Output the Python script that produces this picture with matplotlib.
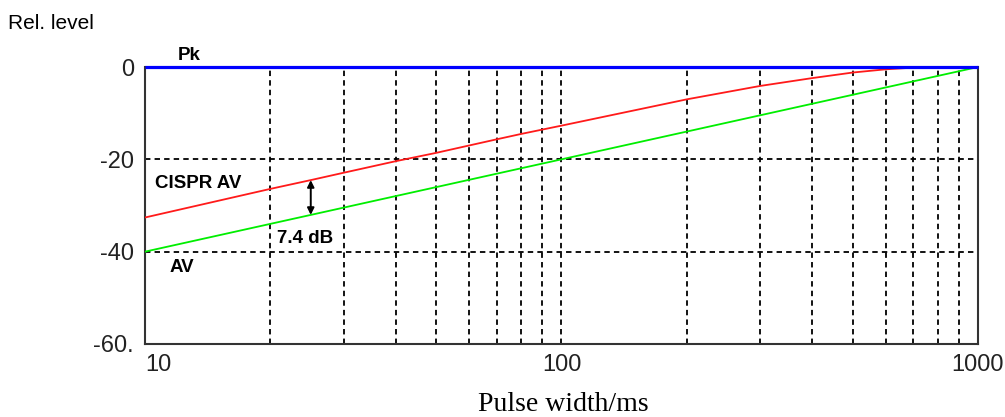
import numpy as np
import matplotlib
matplotlib.use("Agg")
from matplotlib import pyplot as plt
from matplotlib.ticker import FixedLocator, NullLocator

# pulse width in ms, relative level in dB
pk_width = [10, 1000]
pk_level = [0, 0]
av_width = [10, 1000]
av_level = [-40, 0]
cispr_width = [10, 20, 25, 30, 40, 50, 60, 70, 80, 90, 100,
               200, 300, 400, 500, 600, 740]
cispr_level = [-32.6, -26.4, -24.5, -22.9, -20.4, -18.6, -17.0, -15.65, -14.5,
               -13.55, -12.7, -7.0, -4.1, -2.4, -1.2, -0.5, 0.0]
x_ticks = [10, 100, 1000]
x_tick_labels = ["10", "100", "1000"]
y_ticks = [0, -20, -40, -60]
y_tick_labels = ["0", "-20", "-40", "-60."]
grid_x = [20, 30, 40, 50, 60, 70, 80, 90, 100,
          200, 300, 400, 500, 600, 700, 800, 900]
grid_y = [-20, -40]
marker_width = 25  # where the 7.4 dB arrow is drawn

plt.rcParams['font.family'] = ['Liberation Sans', 'DejaVu Sans']

fig = plt.figure(figsize=(10.05, 4.17), dpi=100)
ax = fig.add_axes([0.1443, 0.1751, 0.8288, 0.6642])
ax.set_xscale('log')
ax.set_xlim(10, 1000)
ax.set_ylim(-60, 0)

# dashed grid
for g in grid_x:
    ax.axvline(g, color='black', lw=1.3, ls=(0, (3, 2.3)), zorder=1)
for g in grid_y:
    ax.axhline(g, color='black', lw=1.3, ls=(0, (3, 2.3)), zorder=1)

ax.plot(av_width, av_level, color='#00ee00', lw=1.3, zorder=3)
ax.plot(cispr_width, cispr_level, color='#ff1a1a', lw=1.3, zorder=3)
ax.plot(pk_width, pk_level, color='#0000ff', lw=2.3, zorder=4, clip_on=False,
        solid_capstyle='butt')

# arrow showing the difference between the two averages
red_at = np.interp(np.log10(marker_width), np.log10(cispr_width), cispr_level)
green_at = np.interp(np.log10(marker_width), np.log10(av_width), av_level)
ax.annotate('', xy=(marker_width, green_at), xytext=(marker_width, red_at),
            arrowprops=dict(arrowstyle='<|-|>', color='black', lw=1.4,
                            mutation_scale=10, shrinkA=0, shrinkB=0))

bold = dict(fontsize=13.5, fontweight='bold', color='black')
ax.text(12.0, 1.5, 'Pk', ha='left', va='baseline', **bold)
ax.text(10.55, -26.2, 'CISPR AV', ha='left', va='baseline', **bold)
ax.text(11.45, -44.4, 'AV', ha='left', va='baseline', **bold)
ax.text(20.7, -38.1, '7.4 dB', ha='left', va='baseline', **bold)

ax.xaxis.set_major_locator(FixedLocator(x_ticks))
ax.xaxis.set_minor_locator(NullLocator())
ax.set_xticklabels(x_tick_labels)
ax.yaxis.set_major_locator(FixedLocator(y_ticks))
ax.set_yticklabels(y_tick_labels)
ax.tick_params(axis='both', length=0, labelsize=17, colors='#222222')
ax.tick_params(axis='x', pad=7)
ax.tick_params(axis='y', pad=8)
ax.get_xticklabels()[0].set_horizontalalignment('left')

for side in ['left', 'bottom', 'right']:
    ax.spines[side].set_color('#333333')
    ax.spines[side].set_linewidth(1.5)
ax.spines['top'].set_visible(False)

fig.text(0.008, 0.931, 'Rel. level', fontsize=15, ha='left', va='baseline')
fig.text(0.561, 0.014, 'Pulse width/ms', fontsize=20, ha='center',
         va='baseline', family=['Liberation Serif', 'DejaVu Serif'])

fig.savefig('out.png', dpi=100)
